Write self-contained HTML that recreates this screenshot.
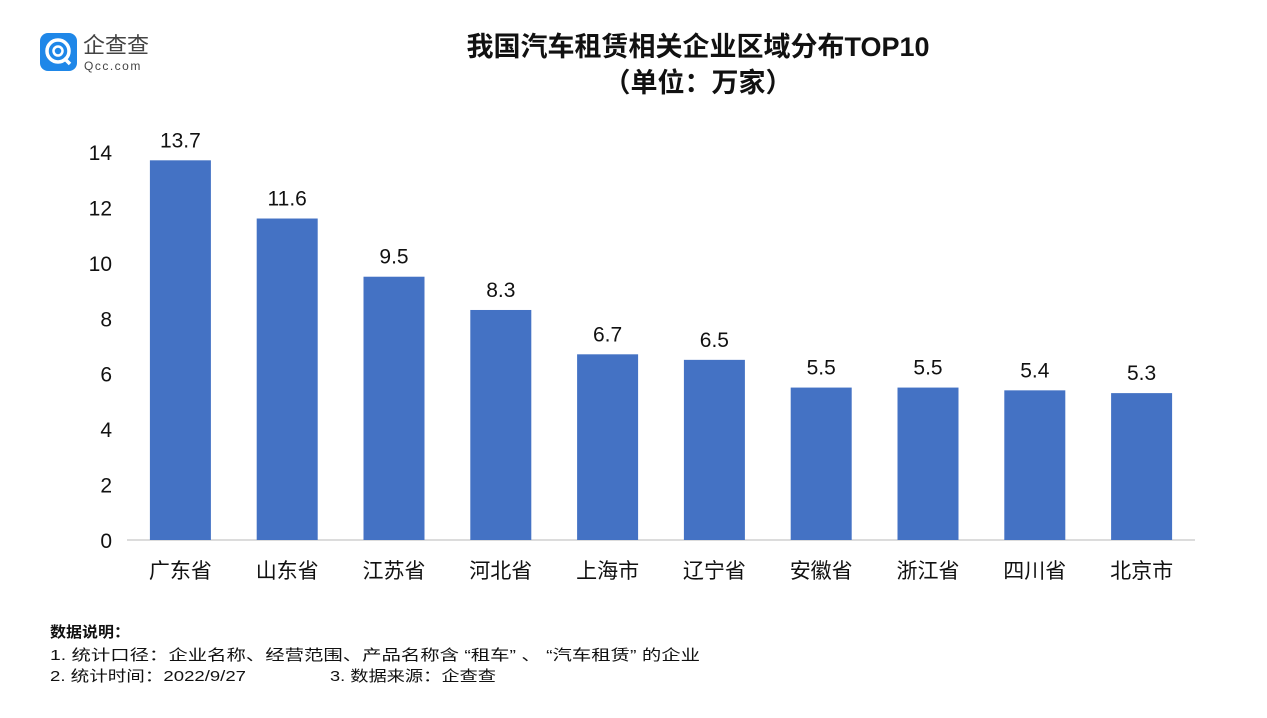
<!DOCTYPE html>
<html><head><meta charset="utf-8"><style>
body{margin:0;background:#fff;}
svg text{font-family:"Liberation Sans","Noto Sans CJK SC",sans-serif;}
</style></head><body>
<svg width="1267" height="713" xmlns="http://www.w3.org/2000/svg" id="chart">
<g>
<rect x="40" y="33" width="37" height="38" rx="8" fill="#1f87e8"/>
<circle cx="58" cy="51" r="11" fill="none" stroke="#fff" stroke-width="3.5"/>
<circle cx="58" cy="51" r="4.5" fill="none" stroke="#fff" stroke-width="2.5"/>
<line x1="64" y1="58" x2="70" y2="64" stroke="#fff" stroke-width="3.5"/>
<text x="83" y="53" font-size="22" fill="#444">企查查</text>
<text x="84" y="70" font-size="12" fill="#444" letter-spacing="1.5">Qcc.com</text>
</g>
<text x="698" y="56" font-size="27" font-weight="bold" text-anchor="middle" fill="#111">我国汽车租赁相关企业区域分布TOP10</text>
<text x="698" y="92" font-size="27" font-weight="bold" text-anchor="middle" fill="#111">（单位：万家）</text>
<g id="plot"></g>
<g font-size="15" fill="#111">
<text x="50" y="637" font-weight="bold" textLength="80" lengthAdjust="spacingAndGlyphs">数据说明：</text>
<text x="50" y="660" textLength="650" lengthAdjust="spacingAndGlyphs">1. 统计口径：企业名称、经营范围、产品名称含 “租车” 、 “汽车租赁” 的企业</text>
<text x="50" y="681" textLength="196" lengthAdjust="spacingAndGlyphs">2. 统计时间：2022/9/27</text>
<text x="330" y="681" textLength="166" lengthAdjust="spacingAndGlyphs">3. 数据来源：企查查</text>
</g>
</svg>
<script>
const categories=["广东省","山东省","江苏省","河北省","上海市","辽宁省","安徽省","浙江省","四川省","北京市"];
const values=[13.7,11.6,9.5,8.3,6.7,6.5,5.5,5.5,5.4,5.3];
const yTicks=[0,2,4,6,8,10,12,14];
const NS="http://www.w3.org/2000/svg";
const g=document.getElementById('plot');
const x0=127,x1=1195,y0=540,yTop=152,yMax=14;
const y=v=>y0-(y0-yTop)*v/yMax;
const band=(x1-x0)/categories.length;
const xC=i=>x0+band*(i+0.5);
function mk(t,a,txt){const e=document.createElementNS(NS,t);for(const k in a)e.setAttribute(k,a[k]);if(txt!=null)e.textContent=txt;g.appendChild(e);return e;}
yTicks.forEach(t=>{
const e=mk('text',{x:112,y:y(t)+8,'font-size':21,'text-anchor':'end',fill:'#111'},t);


});
const ax=mk('line',{x1:x0,x2:x1,y1:y0,y2:y0,stroke:'#d0d0d0','stroke-width':1.5});


categories.forEach((c,i)=>{
const w=61,v=values[i];
const r=mk('rect',{x:xC(i)-w/2,y:y(v),width:w,height:y0-y(v),fill:'#4472c4'});


const l=mk('text',{x:xC(i),y:y(v)-13,'font-size':21,'text-anchor':'middle',fill:'#111'},v.toFixed(1));


const cl=mk('text',{x:xC(i),y:578,'font-size':21,'text-anchor':'middle',fill:'#111'},c);


});
</script>
</body></html>
